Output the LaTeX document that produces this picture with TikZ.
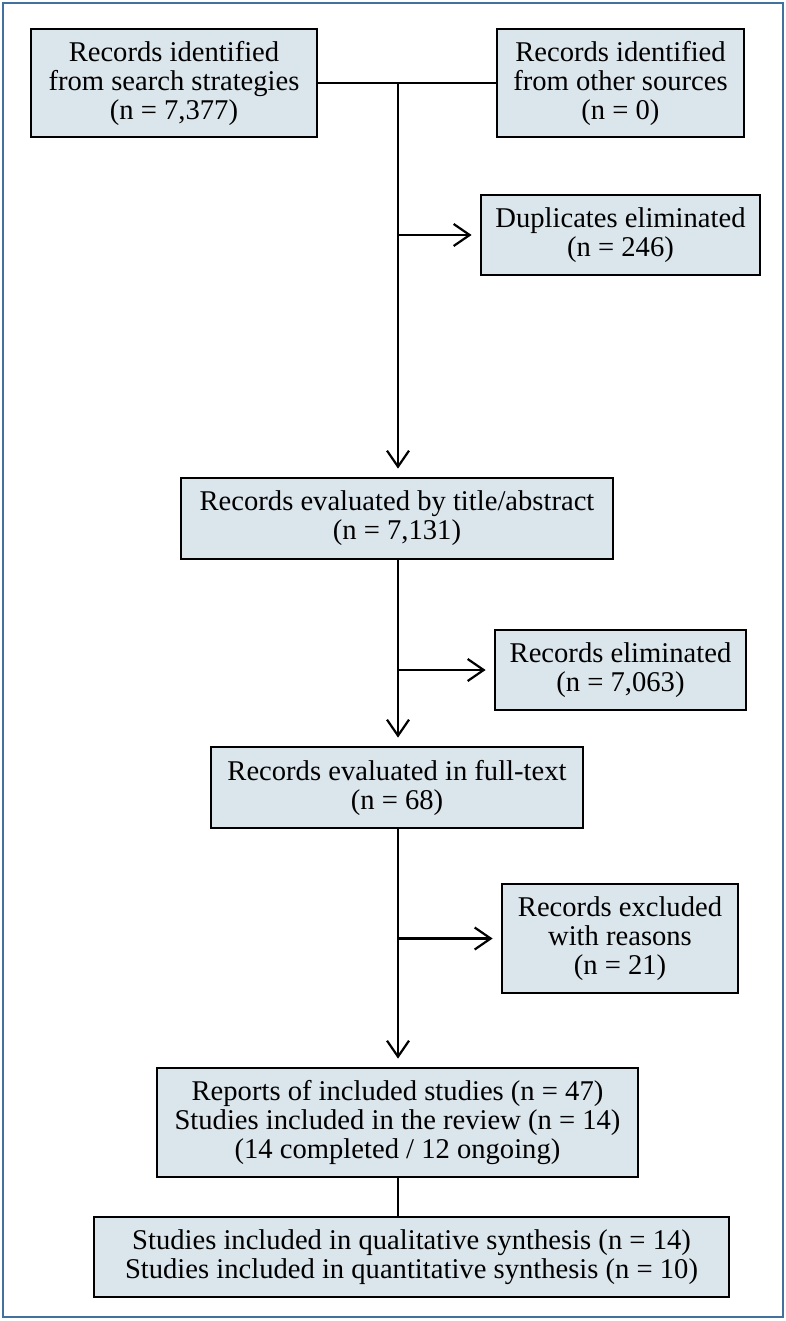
\documentclass[tikz,border=0pt]{standalone}
\usepackage{fontspec}
\setmainfont{Liberation Serif}
\usepackage{xcolor}
\definecolor{grisazul}{HTML}{DBE5EC}
\definecolor{marco}{HTML}{41719C}
\usetikzlibrary{arrows.meta, positioning, calc}

\begin{document}
\begin{tikzpicture}[
  x=0.5pt, y=-0.5pt,
  box/.style={
    rectangle, draw=black, fill=grisazul,
    line width=1.4pt, align=center,
    font=\fontsize{14.3}{14.5}\selectfont, inner sep=2pt
  },
  linea/.style={black, line width=1.1pt},
  arr/.style={linea, -{Straight Barb[length=8pt, width=11pt, line width=1.1pt]},
    shorten >=4pt}
]
  \useasboundingbox (0,0) rectangle (786,1321);
  \draw[marco, line width=1pt] (3,3) rectangle (783,1317);

  % identificacion
  \node[box, minimum width=143pt, minimum height=54pt] (ids) at (174,83)
    {Records identified\\from search strategies\\(n = 7,377)};
  \node[box, minimum width=123.5pt, minimum height=54pt] (ido) at (620.5,83)
    {Records identified\\from other sources\\(n = 0)};
  \node[box, minimum width=139.5pt, minimum height=40pt] (dup) at (620.5,235)
    {Duplicates eliminated\\(n = 246)};
  % cribado
  \node[box, minimum width=216pt, minimum height=40.5pt] (tit) at (397,518.5)
    {Records evaluated by title/abstract\\(n = 7,131)};
  \node[box, minimum width=125.5pt, minimum height=40pt] (eli) at (620.5,670)
    {Records eliminated\\(n = 7,063)};
  \node[box, minimum width=186pt, minimum height=40.5pt] (ftx) at (397,787.5)
    {Records evaluated in full-text\\(n = 68)};
  \node[box, minimum width=118pt, minimum height=54.5pt] (exc) at (620,938.5)
    {Records excluded\\with reasons\\(n = 21)};
  % inclusion
  \node[box, minimum width=240.5pt, minimum height=54.5pt] (inc) at (397.5,1122.5)
    {Reports of included studies (n = 47)\\Studies included in the review (n = 14)\\(14 completed / 12 ongoing)};
  \node[box, minimum width=317.5pt, minimum height=40pt] (sin) at (411.5,1257)
    {Studies included in qualitative synthesis (n = 14)\\Studies included in quantitative synthesis (n = 10)};

  \coordinate (j0) at (398,83);
  \draw[linea] (ids.east) -- (ido.west);
  \draw[arr] (j0) -- (j0 |- tit.north);
  \draw[arr] (j0 |- dup.west) -- (dup.west);
  \draw[arr] (j0 |- tit.south) -- (j0 |- ftx.north);
  \draw[arr] (j0 |- eli.west) -- (eli.west);
  \draw[arr] (j0 |- ftx.south) -- (j0 |- inc.north);
  \draw[arr] (j0 |- exc.west) -- (exc.west);
  \draw[linea] (j0 |- inc.south) -- (j0 |- sin.north);
\end{tikzpicture}
\end{document}
